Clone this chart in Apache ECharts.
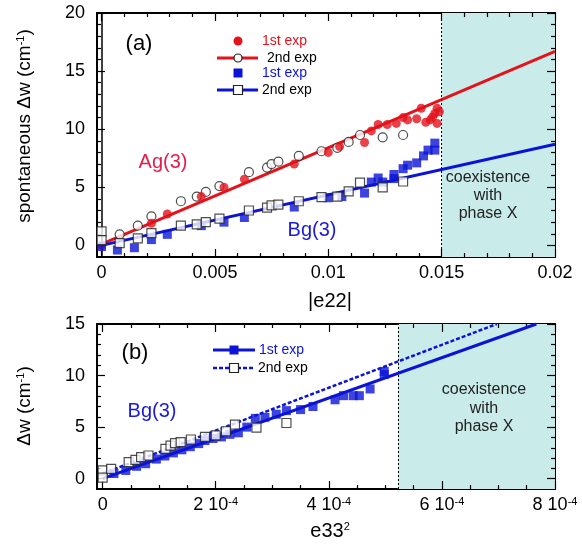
<!DOCTYPE html>
<html><head><meta charset="utf-8">
<script src="https://cdn.jsdelivr.net/npm/echarts@6/dist/echarts.min.js"></script>
<style>html,body{margin:0;padding:0;background:#fff}#c{width:582px;height:547px}</style>
</head><body><div id="c"></div>
<script>
const FONT = '"Liberation Sans", Arial, Helvetica, sans-serif';

// ---------- Panel (a): spontaneous Δw vs |e22| ----------
const aXMajor = [0, 0.005, 0.01, 0.015, 0.02];
const aXLabels = ['0', '0.005', '0.01', '0.015', '0.02'];
const aXMinorStep = 0.001;
const aYMajor = [0, 5, 10, 15, 20];
const aYLabels = ['0', '5', '10', '15', '20'];
const aYMinorStep = 1;

const agFirstX = [0.0000, 0.0022, 0.0029, 0.0044, 0.0054, 0.0063, 0.0085, 0.0100, 0.0105, 0.0116, 0.0119, 0.0122, 0.0126, 0.0130, 0.0133, 0.0135, 0.0139, 0.0141, 0.0143, 0.0145, 0.0146, 0.0147, 0.0148, 0.0149, 0.0148];
const agFirstY = [0.0, 1.9, 2.7, 4.2, 5.0, 5.7, 7.0, 8.0, 8.5, 8.85, 9.85, 10.4, 10.4, 10.5, 11.0, 10.8, 10.9, 11.8, 10.6, 10.8, 11.05, 11.35, 11.8, 11.5, 10.5];

const agSecondX = [0.0008, 0.0016, 0.0022, 0.0035, 0.0042, 0.0046, 0.0052, 0.0065, 0.0073, 0.0075, 0.0078, 0.0087, 0.0097, 0.0104, 0.0109, 0.0114, 0.0124, 0.0133];
const agSecondY = [0.95, 1.7, 2.5, 3.8, 4.2, 4.6, 5.1, 6.3, 6.7, 7.0, 7.2, 7.7, 8.1, 8.4, 8.9, 9.5, 9.3, 9.5];

const bgFirstX = [0.0000, 0.0007, 0.00145, 0.0022, 0.0029, 0.0044, 0.0054, 0.0063, 0.0085, 0.0100, 0.0106, 0.0116, 0.0119, 0.0122, 0.0124, 0.0129, 0.0129, 0.0133, 0.0135, 0.0139, 0.0142, 0.0144, 0.0147, 0.0147];
const bgFirstY = [-0.1, -0.4, -0.2, 0.5, 0.95, 1.7, 2.0, 2.4, 3.3, 4.1, 4.2, 4.5, 5.45, 5.8, 5.45, 5.75, 6.1, 6.6, 6.9, 7.1, 7.7, 8.2, 8.2, 8.8];

const bgSecondX = [0.0000, 0.0000, 0.0008, 0.0016, 0.0022, 0.0035, 0.0042, 0.0046, 0.0052, 0.0065, 0.0073, 0.0075, 0.0078, 0.0087, 0.0097, 0.0104, 0.0109, 0.0114, 0.0124, 0.0133];
const bgSecondY = [1.2, 0.45, 0.2, 0.6, 1.05, 1.7, 1.8, 2.0, 2.3, 3.0, 3.25, 3.45, 3.5, 3.8, 4.15, 4.2, 4.65, 5.4, 5.0, 5.5];

const agFitX = [0, 0.02];
const agFitY = [0.1, 16.7];
const bgFitX = [0, 0.02];
const bgFitY = [0.0, 8.7];

// ---------- Panel (b): Δw vs e33^2 ----------
const bXMajor = [0, 0.0002, 0.0004, 0.0006, 0.0008];
const bXLabels = ['0', '2 10{s|-4}', '4 10{s|-4}', '6 10{s|-4}', '8 10{s|-4}'];
const bXMinorStep = 0.00005;
const bYMajor = [0, 5, 10, 15];
const bYLabels = ['0', '5', '10', '15'];
const bYMinorStep = 1;

const eFirstX = [0.000020, 0.000041, 0.000060, 0.000076, 0.000095, 0.000110, 0.000125, 0.000140, 0.000155, 0.000170, 0.000181, 0.000195, 0.000210, 0.000225, 0.000240, 0.000255, 0.000270, 0.000287, 0.000307, 0.000325, 0.000350, 0.000372, 0.000411, 0.000426, 0.000443, 0.000454, 0.000473, 0.000498, 0.000498];
const eFirstY = [0.5, 0.8, 1.2, 1.45, 1.9, 2.2, 2.5, 2.8, 3.1, 3.4, 3.7, 3.9, 4.05, 4.3, 4.45, 5.0, 5.85, 5.95, 6.25, 6.6, 6.7, 7.0, 7.65, 8.05, 8.05, 8.05, 8.7, 10.1, 10.4];

const eSecondX = [0.0, 0.0, 0.000015, 0.000046, 0.000058, 0.000068, 0.000081, 0.000111, 0.000120, 0.000128, 0.000138, 0.000156, 0.000181, 0.000200, 0.000218, 0.000234, 0.000272, 0.000325];
const eSecondY = [0.8, 0.1, 0.95, 1.6, 1.83, 2.1, 2.25, 2.9, 3.2, 3.45, 3.55, 3.8, 4.05, 4.2, 4.6, 5.25, 4.95, 5.4];

const eFirstFitX = [0, 0.000767];
const eFirstFitY = [0.0, 15];
const eSecondFitX = [0, 0.000697];
const eSecondFitY = [0.5, 15];

const phaseXStartA = 0.015;
const phaseXStartB = 0.000522;

// ---------- styles ----------
const RED = '#e4121b';
const RED_TXT = '#e2204e';
const BLUE = '#0b14d6';
const BLUE_TXT = '#1a1ad8';
const CYAN = '#c9ecea';

const zip = (xs, ys) => xs.map((x, i) => [x, ys[i]]);
const pick = (ticks, labels) => (v) => {
  const step = Math.abs(ticks[1] - ticks[0]);
  for (let i = 0; i < ticks.length; i++) if (Math.abs(ticks[i] - v) < step * 1e-6) return labels[i];
  return '';
};
const supRich = { s: { fontSize: 11, fontFamily: FONT, color: '#000', verticalAlign: 'top', lineHeight: 12 } };
const FRAME = { show: true, onZero: false, lineStyle: { color: '#000', width: 2 } };
const TICK_STYLE = { color: '#000', width: 1.2, type: 'solid' };

const grids = [], xAxis = [], yAxis = [];
function panel(spec) {
  const { left, width, top, height, xmin, xmax, ymin, ymax, xMajor, xLabels, xStep, yMajor, yLabels, yStep } = spec;
  const g = grids.length;
  grids.push({ left, width, top, height });
  const xi = xAxis.length, yi = yAxis.length;
  const base = { type: 'value', gridIndex: g, axisLine: FRAME, axisTick: { show: false }, splitLine: { show: false } };
  xAxis.push(Object.assign({}, base, { min: xmin, max: xmax, position: 'bottom',
    axisLabel: { show: true, customValues: xMajor, margin: 7, formatter: pick(xMajor, xLabels), color: '#000', fontSize: 18, fontFamily: FONT, rich: supRich, hideOverlap: false } }));
  xAxis.push(Object.assign({}, base, { min: xmin, max: xmax, position: 'top', axisLabel: { show: false } }));
  yAxis.push(Object.assign({}, base, { min: ymin, max: ymax, position: 'left',
    axisLabel: { show: true, customValues: yMajor, margin: 12, formatter: pick(yMajor, yLabels), color: '#000', fontSize: 18, fontFamily: FONT, hideOverlap: false } }));
  yAxis.push(Object.assign({}, base, { min: ymin, max: ymax, position: 'right', axisLabel: { show: false } }));

  // inward tick marks on all four sides as markLine segments in axis units
  const dxPerPx = (xmax - xmin) / width, dyPerPx = (ymax - ymin) / height;
  const isMajor = (v, major) => major.some(m => Math.abs(m - v) < (major[1] - major[0]) * 1e-6);
  const tickLines = [];
  const nx = Math.round((xMajor[xMajor.length - 1] - xMajor[0]) / xStep);
  for (let i = 0; i <= nx; i++) {
    const v = xMajor[0] + i * xStep, len = (isMajor(v, xMajor) ? 8 : 4) * dyPerPx;
    tickLines.push([{ coord: [v, ymin], lineStyle: TICK_STYLE }, { coord: [v, ymin + len] }]);
    tickLines.push([{ coord: [v, ymax], lineStyle: TICK_STYLE }, { coord: [v, ymax - len] }]);
  }
  const ny = Math.round((yMajor[yMajor.length - 1] - yMajor[0]) / yStep);
  for (let i = 0; i <= ny; i++) {
    const v = yMajor[0] + i * yStep, len = (isMajor(v, yMajor) ? 8 : 4) * dxPerPx;
    tickLines.push([{ coord: [xmin, v], lineStyle: TICK_STYLE }, { coord: [xmin + len, v] }]);
    tickLines.push([{ coord: [xmax, v], lineStyle: TICK_STYLE }, { coord: [xmax - len, v] }]);
  }
  return { xi, yi, xmin, xmax, ymin, ymax, tickLines };
}

const A = panel({ left: 97, width: 458, top: 13, height: 244, xmin: -0.0002, xmax: 0.02, ymin: -1, ymax: 20,
  xMajor: aXMajor, xLabels: aXLabels, xStep: aXMinorStep, yMajor: aYMajor, yLabels: aYLabels, yStep: aYMinorStep });
const B = panel({ left: 97, width: 458, top: 324, height: 165, xmin: -0.00001, xmax: 0.0008, ymin: -1, ymax: 15,
  xMajor: bXMajor, xLabels: bXLabels, xStep: bXMinorStep, yMajor: bYMajor, yLabels: bYLabels, yStep: bYMinorStep });

const openSym = (data, P, symbol, size, z) => ({
  type: 'scatter', xAxisIndex: P.xi, yAxisIndex: P.yi, data, symbol, symbolSize: size, z,
  itemStyle: { color: '#fff', borderColor: '#222', borderWidth: 1.2 }, silent: true
});
const fillSym = (data, P, symbol, size, color, z) => ({
  type: 'scatter', xAxisIndex: P.xi, yAxisIndex: P.yi, data, symbol, symbolSize: size, z,
  itemStyle: { color }, silent: true
});
const fitLine = (data, P, color, type, width, z, extra) => Object.assign({
  type: 'line', xAxisIndex: P.xi, yAxisIndex: P.yi, data, symbol: 'none', clip: true, z,
  lineStyle: { color, width, type }, silent: true
}, extra || {});
const vline = (x, y0, y1, style) => [{ coord: [x, y0], lineStyle: style }, { coord: [x, y1] }];

const series = [
  fitLine(zip(agFitX, agFitY), A, RED, 'solid', 3, 4, {
    markArea: { silent: true, itemStyle: { color: CYAN }, data: [[{ coord: [phaseXStartA, -1] }, { coord: [0.02, 20] }]] },
    markLine: { silent: true, symbol: 'none', precision: 10, label: { show: false }, emphasis: { disabled: true },
      data: [
        vline(phaseXStartA, -1, 20, { color: '#000', width: 1, type: [2, 2] }),
        vline(0, -1, 20, { color: '#000', width: 1.5, type: 'solid' })
      ].concat(A.tickLines) }
  }),
  fitLine(zip(bgFitX, bgFitY), A, BLUE, 'solid', 3, 4),
  openSym(zip(agSecondX, agSecondY), A, 'circle', 9, 5),
  fillSym(zip(agFirstX, agFirstY), A, 'circle', 9, RED, 6),
  fillSym(zip(bgFirstX, bgFirstY), A, 'rect', 9, BLUE, 6),
  openSym(zip(bgSecondX, bgSecondY), A, 'rect', 9, 7),
  fitLine(zip(eFirstFitX, eFirstFitY), B, BLUE, 'solid', 3, 6, {
    markArea: { silent: true, itemStyle: { color: CYAN }, data: [[{ coord: [phaseXStartB, -1] }, { coord: [0.0008, 15] }]] },
    markLine: { silent: true, symbol: 'none', precision: 10, label: { show: false }, emphasis: { disabled: true },
      data: [vline(phaseXStartB, -1, 15, { color: '#000', width: 1, type: [2, 2] })].concat(B.tickLines) }
  }),
  fitLine(zip(eSecondFitX, eSecondFitY), B, BLUE, [4, 2], 2.5, 6),
  fillSym(zip(eFirstX, eFirstY), B, 'rect', 9, BLUE, 5),
  openSym(zip(eSecondX, eSecondY), B, 'rect', 9, 7)
];

const txt = (x, y, text, size, color, extra) => ({
  type: 'text', x, y, z: 100, silent: true,
  style: Object.assign({ text, fill: color, font: size + 'px ' + FONT, align: 'center', verticalAlign: 'middle' }, extra || {})
});
const richSup = { s: { fontSize: 11, fontFamily: FONT, fill: '#000', verticalAlign: 'top', lineHeight: 12 } };

const graphic = [
  txt(139, 44, '(a)', 22, '#000'),
  txt(163, 162, 'Ag(3)', 20, RED_TXT),
  txt(312, 230, 'Bg(3)', 20, BLUE_TXT),
  txt(488, 178, 'coexistence', 16, '#222'),
  txt(488, 196, 'with', 16, '#222'),
  txt(488, 214, 'phase X', 16, '#222'),
  // legend (a)
  { type: 'circle', shape: { cx: 238, cy: 41, r: 4.5 }, style: { fill: RED }, z: 100, silent: true },
  txt(262, 41, '1st exp', 14, RED, { align: 'left' }),
  { type: 'line', shape: { x1: 217, y1: 58, x2: 258, y2: 58 }, style: { stroke: RED, lineWidth: 3 }, z: 100, silent: true },
  { type: 'circle', shape: { cx: 238, cy: 58, r: 4 }, style: { fill: '#fff', stroke: '#222', lineWidth: 1.2 }, z: 101, silent: true },
  txt(267, 58, '2nd exp', 14, '#000', { align: 'left' }),
  { type: 'rect', shape: { x: 233.5, y: 68.5, width: 9, height: 9 }, style: { fill: BLUE }, z: 100, silent: true },
  txt(262, 73, '1st exp', 14, BLUE, { align: 'left' }),
  { type: 'line', shape: { x1: 217, y1: 90, x2: 258, y2: 90 }, style: { stroke: BLUE, lineWidth: 3 }, z: 100, silent: true },
  { type: 'rect', shape: { x: 233.5, y: 85.5, width: 9, height: 9 }, style: { fill: '#fff', stroke: '#222', lineWidth: 1.2 }, z: 101, silent: true },
  txt(262, 90, '2nd exp', 14, '#000', { align: 'left' }),
  // panel (b)
  txt(135, 353, '(b)', 22, '#000'),
  txt(152, 411, 'Bg(3)', 20, BLUE_TXT),
  txt(484, 390, 'coexistence', 16, '#222'),
  txt(484, 409, 'with', 16, '#222'),
  txt(484, 427, 'phase X', 16, '#222'),
  { type: 'line', shape: { x1: 213, y1: 350, x2: 255, y2: 350 }, style: { stroke: BLUE, lineWidth: 3 }, z: 100, silent: true },
  { type: 'rect', shape: { x: 229.5, y: 345.5, width: 9, height: 9 }, style: { fill: BLUE }, z: 101, silent: true },
  txt(259, 350, '1st exp', 14, BLUE, { align: 'left' }),
  { type: 'line', shape: { x1: 213, y1: 368, x2: 255, y2: 368 }, style: { stroke: BLUE, lineWidth: 2.5, lineDash: [4, 2] }, z: 100, silent: true },
  { type: 'rect', shape: { x: 229.5, y: 363.5, width: 9, height: 9 }, style: { fill: '#fff', stroke: '#222', lineWidth: 1.2 }, z: 101, silent: true },
  txt(258, 368, '2nd exp', 14, '#000', { align: 'left' }),
  // axis titles
  txt(330, 301, '|e22|', 20, '#000'),
  txt(330, 531, 'e33{s|2}', 20, '#000', { rich: richSup }),
  Object.assign(txt(25, 126, 'spontaneous Δw (cm{s|-1})', 19, '#000', { rich: richSup }), { rotation: Math.PI / 2 }),
  Object.assign(txt(25, 406, 'Δw (cm{s|-1})', 19, '#000', { rich: richSup }), { rotation: Math.PI / 2 })
];

const chart = echarts.init(document.getElementById('c'), null, { renderer: 'canvas' });
chart.setOption({
  animation: false,
  backgroundColor: '#fff',
  grid: grids,
  xAxis, yAxis, series, graphic
});
</script>
</body></html>
